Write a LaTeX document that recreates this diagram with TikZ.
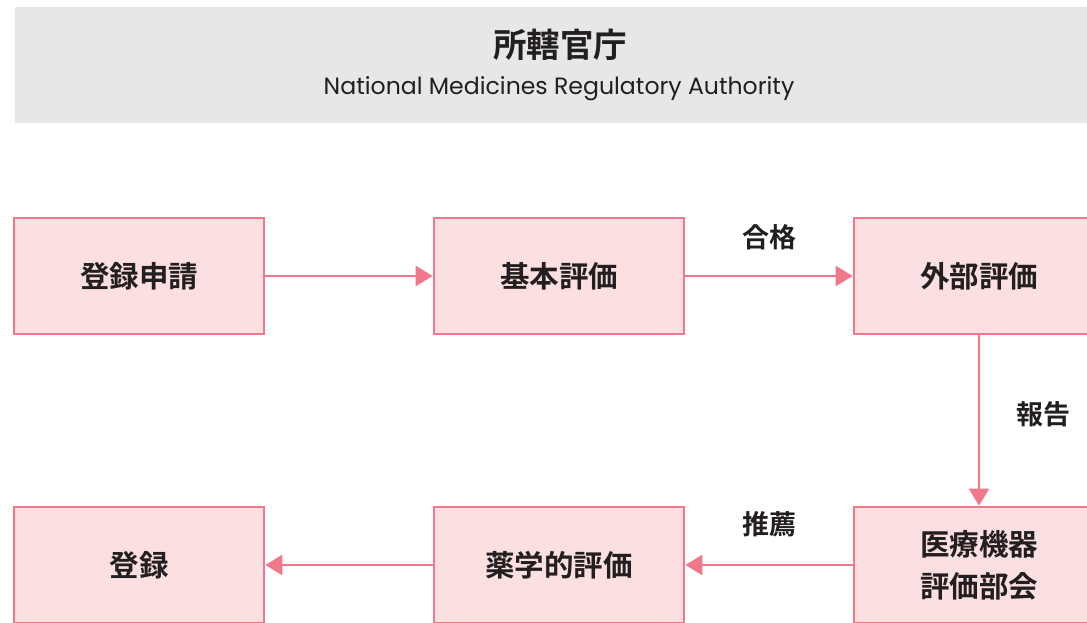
\documentclass[tikz,border=0pt]{standalone}
\usepackage{fontspec}
\setmainfont{Noto Sans CJK JP}
\newfontfamily\jpbold{Noto Sans CJK JP Bold}
\newfontfamily\latinsub{Poppins}
\usetikzlibrary{arrows.meta}
\definecolor{pinkline}{HTML}{F0788A}
\definecolor{pinkfill}{HTML}{FBDFE1}
\definecolor{hdrgray}{HTML}{E6E7E9}
\definecolor{txt}{HTML}{231F20}
\tikzset{
  stepbox/.style={draw=pinkline, fill=pinkfill, line width=2.7pt, minimum width=250pt, minimum height=116pt, inner sep=0pt, align=center, text=txt, font=\jpbold\fontsize{29.5}{42}\selectfont},
  flow/.style={draw=pinkline, line width=2.7pt, -{Triangle[length=17pt,width=20pt]}},
  elabel/.style={text=txt, font=\jpbold\fontsize{27}{30}\selectfont, inner sep=0pt}
}
\begin{document}
\begin{tikzpicture}[x=1pt,y=-1pt]
\useasboundingbox (0,0) rectangle (1087,622);
\clip (0,0) rectangle (1087,622);
\fill[hdrgray] (15,7) rectangle (1100,123);
\node[text=txt, font=\jpbold\fontsize{33.5}{36}\selectfont, inner sep=0pt] (title) at (560,45) {所轄官庁};
\node[text=txt, font=\latinsub\fontsize{23.6}{26}\selectfont, inner sep=0pt] (sub) at (559,89) {National Medicines Regulatory Authority};
\node[stepbox] (apply) at (139,276) {登録申請};
\node[stepbox] (basic) at (559,276) {基本評価};
\node[stepbox] (ext) at (979,276) {外部評価};
\node[stepbox] (reg) at (139,565) {登録};
\node[stepbox] (pharm) at (559,565) {薬学的評価};
\node[stepbox] (comm) at (979,565) {医療機器\\評価部会};
\draw[flow] (apply) -- (basic);
\draw[flow] (basic) -- (ext);
\draw[flow] (ext) -- (comm);
\draw[flow] (comm) -- (pharm);
\draw[flow] (pharm) -- (reg);
\node[elabel] (l1) at (769,237) {合格};
\node[elabel] (l2) at (1043,414) {報告};
\node[elabel] (l3) at (769,524) {推薦};
\end{tikzpicture}
\end{document}
